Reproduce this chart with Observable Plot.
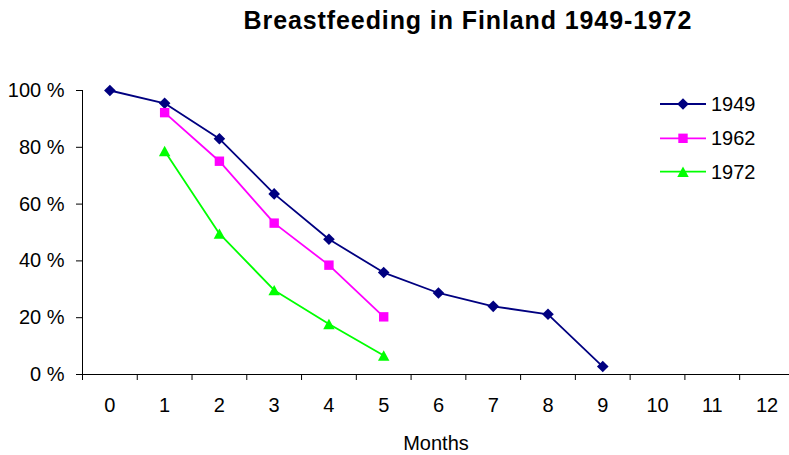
<!DOCTYPE html>
<html><head><meta charset="utf-8">
<script src="https://cdn.jsdelivr.net/npm/d3@7"></script>
<script src="https://cdn.jsdelivr.net/npm/@observablehq/plot@0.6"></script>
<style>
body{margin:0;background:#fff;font-family:"Liberation Sans",Arial,sans-serif;}
#wrap{position:relative;width:789px;height:455px;overflow:hidden;background:#fff;}
#title{position:absolute;top:8px;left:0;width:789px;padding-left:147px;box-sizing:border-box;text-align:center;font-weight:bold;font-size:25px;line-height:25px;letter-spacing:0.9px;color:#000;}
#chart{position:absolute;top:50px;left:0;}
#legend{position:absolute;left:650px;top:85px;}
</style></head><body>
<div id="wrap">
<div id="title">Breastfeeding in Finland 1949-1972</div>
<div id="chart"></div>
<svg id="legend" width="139" height="105"></svg>
</div>
<script>
const months = [0,1,2,3,4,5,6,7,8,9,10,11,12];
const series = ["1949","1962","1972"];
const colors = ["#000080","#FF00FF","#00FF00"];
const v1949 = [100, 95.5, 83.0, 63.6, 47.6, 35.9, 28.7, 24.0, 21.2, 2.8];
const v1962 = [null, 92.2, 75.1, 53.3, 38.5, 20.3];
const v1972 = [null, 78.7, 49.6, 29.7, 17.8, 6.7];
const yTicks = [0, 20, 40, 60, 80, 100];

const values = {"1949": v1949, "1962": v1962, "1972": v1972};
const rows = [];
for (const s of series) {
  values[s].forEach((v, i) => { if (v != null) rows.push({series: s, month: months[i], value: v}); });
}

const diamond = {draw(ctx, size){ const k = Math.sqrt(size/Math.PI); ctx.moveTo(0,-k); ctx.lineTo(k,0); ctx.lineTo(0,k); ctx.lineTo(-k,0); ctx.closePath(); }};
const square = {draw(ctx, size){ const k = Math.sqrt(size/Math.PI); ctx.moveTo(-k,-k); ctx.lineTo(k,-k); ctx.lineTo(k,k); ctx.lineTo(-k,k); ctx.closePath(); }};
const triangle = {draw(ctx, size){ const k = Math.sqrt(size/Math.PI); ctx.moveTo(0,-k); ctx.lineTo(1.1*k,k); ctx.lineTo(-1.1*k,k); ctx.closePath(); }};
const symbols = [diamond, square, triangle];
const radii = [5.8, 4.7, 5.2];

const font = "'Liberation Sans', Arial, sans-serif";
const plot = Plot.plot({
  width: 789, height: 405,
  marginLeft: 82, marginRight: 0, marginTop: 40, marginBottom: 81,
  x: {domain: [-0.5, 12.41]},
  y: {domain: [0, 100]},
  color: {domain: series, range: colors},
  style: {fontFamily: font, fontSize: "20px", color: "#000", background: "transparent"},
  marks: [
    Plot.ruleY([0], {stroke: "#000", strokeWidth: 1}),
    Plot.ruleX([-0.5], {y1: 0, y2: 100, stroke: "#000", strokeWidth: 1}),
    Plot.axisY({ticks: yTicks, tickSize: 6, tickPadding: 12, tickFormat: d => d + " %", fontSize: 20, label: null, stroke: "#000", strokeOpacity: 1}),
    Plot.axisX({ticks: d3.range(-0.5, 12, 1), tickSize: 6, tickFormat: () => "", label: null, strokeOpacity: 1}),
    Plot.axisX({ticks: months, tickSize: 0, tickPadding: 23, fontSize: 20, label: null}),
    Plot.text(["Months"], {frameAnchor: "bottom", dy: 69, lineAnchor: "middle", fontSize: 20, fill: "#000"}),
    Plot.line(rows, {x: "month", y: "value", z: "series", stroke: "series", strokeWidth: 1.8}),
    ...series.map((s, i) => Plot.dot(rows.filter(r => r.series === s), {x: "month", y: "value", symbol: symbols[i], r: radii[i], fill: colors[i], stroke: "none"}))
  ]
});
document.getElementById("chart").append(plot);

// legend
const lg = d3.select("#legend");
const rowY = [19, 53.3, 86.7];
series.forEach((s, i) => {
  const g = lg.append("g").attr("transform", `translate(0,${rowY[i]})`);
  g.append("line").attr("x1", 10).attr("x2", 56).attr("y1", 0).attr("y2", 0).attr("stroke", colors[i]).attr("stroke-width", 1.8);
  const sz = Math.PI * radii[i] * radii[i];
  g.append("path").attr("transform", "translate(33,0)").attr("d", d3.symbol(symbols[i], sz)()).attr("fill", colors[i]);
  g.append("text").attr("x", 61).attr("dy", "0.35em").attr("font-size", 20).attr("font-family", font).attr("fill", "#000").text(s);
});
</script>
</body></html>
